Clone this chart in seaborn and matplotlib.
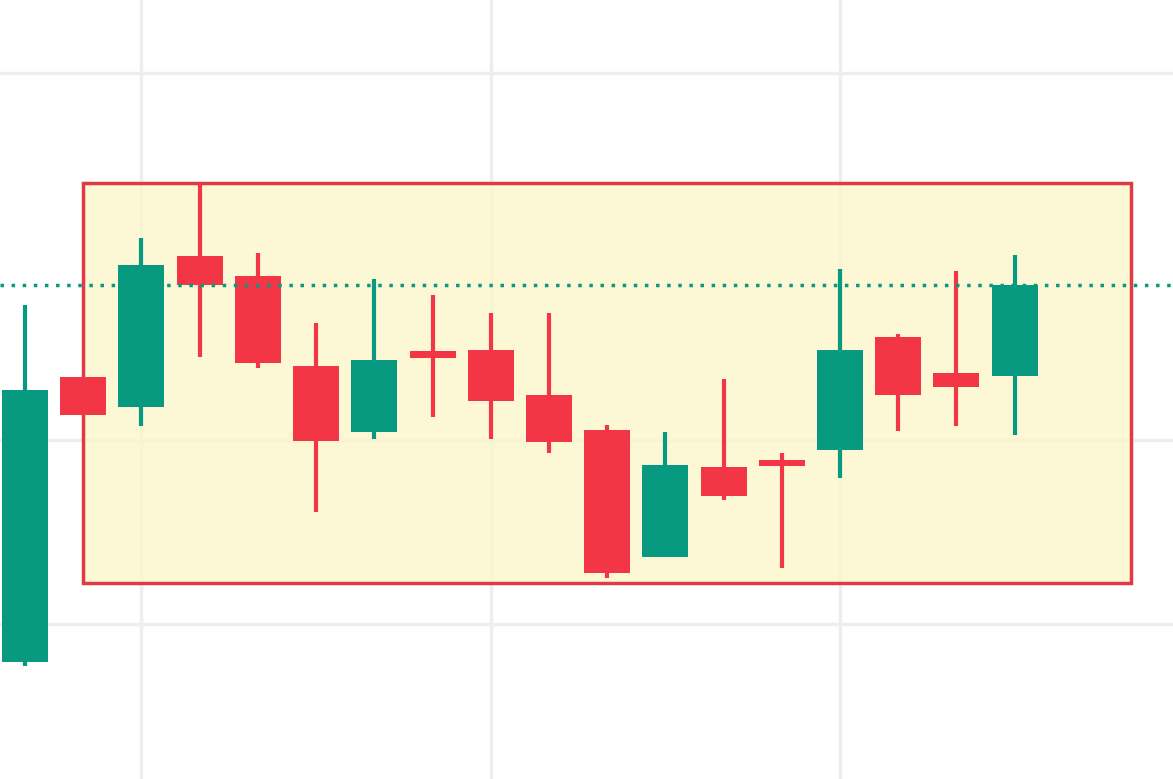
import numpy as np
import matplotlib
matplotlib.use("Agg")
import matplotlib.pyplot as plt
import seaborn as sns
from matplotlib.patches import Rectangle

# candle data (price units)
opens = [11.7, 40.2, 37.2, 52.3, 50.3, 41.3, 34.7, 42.8, 42.9, 38.4, 34.9, 22.2, 31.2, 31.9, 32.9, 44.2, 40.6, 40.3]
closes = [38.9, 36.4, 51.4, 49.4, 41.6, 33.8, 41.9, 42.1, 37.8, 33.7, 20.6, 31.4, 28.3, 31.3, 42.9, 38.4, 39.2, 49.4]
highs = [47.4, 40.2, 54.1, 59.6, 52.6, 45.6, 50.0, 48.4, 46.6, 46.6, 35.4, 34.7, 40.0, 32.6, 51.0, 44.5, 50.8, 52.4]
lows = [11.3, 36.4, 35.3, 42.2, 41.1, 26.7, 34.0, 36.2, 34.0, 32.6, 20.1, 22.2, 27.9, 21.1, 30.1, 34.8, 35.3, 34.4]
last_price = 49.4
range_top, range_bottom = 59.6, 19.6

sns.set_style("white")
fig = plt.figure(figsize=(11.73, 7.79), dpi=100)
ax = fig.add_axes([0, 0, 1, 1])

x = np.arange(len(opens))
green, red = "#089981", "#f23645"
colors = [green if c >= o else red for o, c in zip(opens, closes)]

for gx in [2, 8, 14]:
    ax.axvline(gx, color="#eeeeee", lw=2.5, zorder=0)
for gy in [70.6, 33.9, 15.5]:
    ax.axhline(gy, color="#eeeeee", lw=2.5, zorder=0)

ax.add_patch(Rectangle((1.0, range_bottom), 17.99, range_top - range_bottom,
                       facecolor="#fcf5c8", edgecolor="none", alpha=0.75, zorder=1))
ax.add_patch(Rectangle((1.0, range_bottom), 17.99, range_top - range_bottom,
                       facecolor="none", edgecolor="#e03a45", lw=2.5, zorder=1))

ax.vlines(x, lows, highs, colors=colors, lw=3, zorder=2)
bottoms = np.minimum(opens, closes)
heights = np.maximum(np.abs(np.array(closes) - np.array(opens)), 0.4)
ax.bar(x, heights, bottom=bottoms, width=0.79, color=colors, linewidth=0, zorder=3)

ax.axhline(last_price, color=green, lw=2.5, ls=(0, (1, 2.2)), zorder=4)

ax.set_xlim(-0.43, 19.72)
ax.set_ylim(0, 77.9)
ax.axis("off")
fig.savefig("out.png", dpi=100)
